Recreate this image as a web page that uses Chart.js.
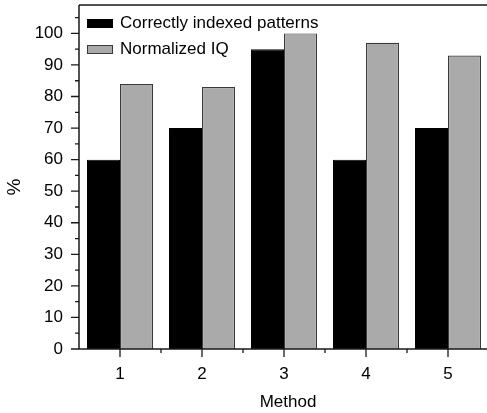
<!DOCTYPE html>
<html><head><meta charset="utf-8">
<script src="https://cdn.jsdelivr.net/npm/chart.js@4.4.0/dist/chart.umd.min.js"></script>
<style>html,body{margin:0;padding:0;overflow:hidden;background:#fff}#wrap{width:492px;height:413px;position:relative}</style>
</head><body><div id="wrap"><canvas id="c" width="492" height="413"></canvas></div>
<script>
const categories = ['1', '2', '3', '4', '5'];
const correctlyIndexed = [60, 70, 95, 60, 70];
const normalizedIQ = [84, 83, 100, 97, 93];
const yTickValues = [0, 10, 20, 30, 40, 50, 60, 70, 80, 90, 100];
const yMinorValues = [5, 15, 25, 35, 45, 55, 65, 75, 85, 95, 105];
const seriesNames = ['Correctly indexed patterns', 'Normalized IQ'];

const FONT = '"Liberation Sans", Arial, Helvetica, sans-serif';
const AX = '#1a1a1a';

const decor = {
  id: 'decor',
  afterDatasetsDraw(chart) {
    const {ctx, chartArea: a, scales: {x, y}} = chart;
    ctx.save();
    ctx.strokeStyle = AX;
    ctx.lineWidth = 1.5;
    ctx.beginPath();
    ctx.moveTo(a.left, a.top); ctx.lineTo(a.right + 2, a.top);
    ctx.moveTo(a.left, a.top); ctx.lineTo(a.left, a.bottom);
    ctx.moveTo(a.left, a.bottom); ctx.lineTo(a.right + 2, a.bottom);
    ctx.stroke();
    ctx.lineWidth = 1.3;
    ctx.beginPath();
    yTickValues.forEach(v => { const p = y.getPixelForValue(v); ctx.moveTo(a.left - 8, p); ctx.lineTo(a.left, p); });
    yMinorValues.forEach(v => { const p = y.getPixelForValue(v); ctx.moveTo(a.left - 4, p); ctx.lineTo(a.left, p); });
    categories.forEach((c, i) => {
      const p = x.getPixelForTick(i);
      ctx.moveTo(p, a.bottom); ctx.lineTo(p, a.bottom + 8);
      const q = p + (x.getPixelForTick(1) - x.getPixelForTick(0)) / 2;
      ctx.moveTo(q, a.bottom); ctx.lineTo(q, a.bottom + 4);
    });
    ctx.stroke();
    // legend
    ctx.font = '17px ' + FONT;
    ctx.textBaseline = 'middle';
    chart.data.datasets.forEach((ds, i) => {
      const cy = 23.5 + i * 26;
      ctx.fillStyle = ds.backgroundColor;
      ctx.fillRect(87, cy - 4.5, 26, 9);
      ctx.strokeStyle = ds.borderColor;
      ctx.lineWidth = 1;
      ctx.strokeRect(87.5, cy - 4, 25, 8);
      ctx.fillStyle = '#000';
      ctx.fillText(ds.label, 120, cy);
    });
    // axis titles
    ctx.font = '17px ' + FONT;
    ctx.textAlign = 'center';
    ctx.fillText('Method', 288, 402);
    ctx.translate(15, 187);
    ctx.rotate(-Math.PI / 2);
    ctx.font = '19px ' + FONT;
    ctx.fillText('%', 0, 0);
    ctx.restore();
  }
};

new Chart(document.getElementById('c'), {
  type: 'bar',
  data: {
    labels: categories,
    datasets: [
      {label: seriesNames[0], data: correctlyIndexed, backgroundColor: '#000000', borderColor: '#000000', borderWidth: 1},
      {label: seriesNames[1], data: normalizedIQ, backgroundColor: '#aaaaaa', borderColor: '#3a3a3a', borderWidth: 1.2}
    ]
  },
  options: {
    responsive: false,
    animation: false,
    devicePixelRatio: 1,
    layout: {padding: {left: 0, top: 5, right: 3, bottom: 0}},
    categoryPercentage: 0.805,
    barPercentage: 1.0,
    plugins: {legend: {display: false}, tooltip: {enabled: false}},
    scales: {
      x: {
        offset: true,
        grid: {display: false, drawTicks: false},
        border: {display: false},
        ticks: {color: '#000', font: {family: FONT, size: 17}, padding: 15},
        afterFit(s) { s.height = 64; s.paddingLeft = 0; s.paddingRight = 0; }
      },
      y: {
        min: 0, max: 109,
        grid: {display: false, drawTicks: false},
        border: {display: false},
        afterBuildTicks(s) { s.ticks = yTickValues.map(v => ({value: v})); },
        ticks: {color: '#000', font: {family: FONT, size: 17}, padding: 16},
        afterFit(s) { s.width = 79; s.paddingTop = 0; s.paddingBottom = 0; }
      }
    }
  },
  plugins: [decor]
});
</script>
</body></html>
